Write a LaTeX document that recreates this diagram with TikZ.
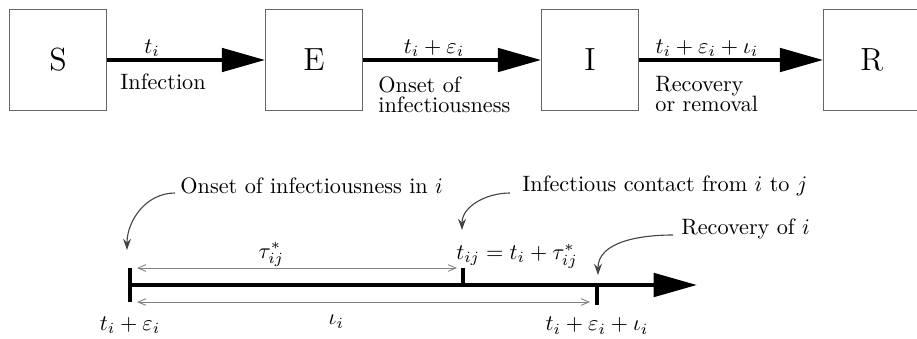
\documentclass[tikz,border=0pt]{standalone}
\usepackage{amsmath}
\usepackage{tikz}
\usetikzlibrary{positioning, calc, arrows.meta}
\definecolor{boxgray}{HTML}{666666}
\definecolor{pointergray}{HTML}{444444}
\tikzset{
	statenode/.style={
			rectangle,
			draw=boxgray,
			thin,
			fill=white,
			minimum width=43.6pt,
			minimum height=45.5pt,
			inner sep=0pt,
			font=\Large
		},
	bigarrow/.style={
			line width=1.8pt,
			-{Triangle[length=19.5pt, width=10.5pt]}
		},
	tickline/.style={
			line width=1.8pt
		},
	spanarrow/.style={
			draw=gray,
			line width=0.4pt,
			{Straight Barb[length=3.5pt, width=3pt]}-{Straight Barb[length=3.5pt, width=3pt]}
		},
	pointer/.style={
			draw=pointergray,
			line width=0.5pt,
			-{Stealth[length=5pt, width=3.5pt]}
		},
	plainlabel/.style={
			inner sep=0pt,
			align=left
		}
}

\begin{document}
\begin{tikzpicture}[x=0.45pt, y=-0.45pt]
				\useasboundingbox (0,0) rectangle (917,339);

				% compartments
				\node[statenode] at (58,60) (S) {S};
				\node[statenode] at (314,60) (E) {E};
				\node[statenode] at (590,60) (I) {I};
				\node[statenode] at (872,60) (R) {R};

				\draw[bigarrow] (S) -- (E);
				\draw[bigarrow] (E) -- (I);
				\draw[bigarrow] (I) -- (R);

				\node[plainlabel] at (152,48) (tS) {$t_i$};
				\node[plainlabel, anchor=west] at (120,82) (lS) {Infection};
				\node[plainlabel] at (434,48) (tE) {$t_i + \varepsilon_i$};
				\node[plainlabel, anchor=north west] at (378,76) (lE) {Onset of\\[-3pt]infectiousness};
				\node[plainlabel] at (707,48) (tI) {$t_i + \varepsilon_i + \iota_i$};
				\node[plainlabel, anchor=north west] at (655,76) (lI) {Recovery\\[-3pt]or removal};

				% time line
				\coordinate (a0) at (130,285);
				\coordinate (a1) at (697,285);
				\coordinate (c0) at (463,285);
				\coordinate (r0) at (597,285);

				\draw[bigarrow] (a0) -- (a1);
				\draw[tickline] ($(a0)+(0,-17)$) coordinate (a0top) -- ($(a0)+(0,17)$) coordinate (a0bot);
				\draw[tickline] (c0) -- ($(c0)+(0,-17)$) coordinate (c0top);
				\draw[tickline] (r0) -- ($(r0)+(0,20)$) coordinate (r0bot);

				\coordinate (tauL) at (137,268);
				\coordinate (tauR) at (457,268);
				\coordinate (iotaL) at (137,302);
				\coordinate (iotaR) at (590,302);
				\draw[spanarrow] (tauL) -- node[pos=0.42, above=-3pt] {$\tau^*_{ij}$} (tauR);
				\draw[spanarrow] (iotaL) -- node[pos=0.44, below=2.5pt] {$\iota_i$} (iotaR);

				\node[below=3pt of a0bot] (ta0) {$t_i + \varepsilon_i$};
				\node[below=2pt of r0bot] (tr0) {$t_i + \varepsilon_i + \iota_i$};
				\node at (517,256) (tc0) {$t_{ij} = t_i + \tau^*_{ij}$};

				% annotations
				\node[plainlabel, anchor=west] at (180,186) (onset) {Onset of infectiousness in $i$};
				\node[plainlabel, anchor=west] at (522,186) (contact) {Infectious contact from $i$ to $j$};
				\node[plainlabel, anchor=west] at (681,229) (recov) {Recovery of $i$};

				\coordinate (onsetP) at (127,250);
				\coordinate (contactP) at (462,230);
				\coordinate (recovP) at (598,275);
				\draw[pointer] ($(onset.west)+(-5,7)$) to[out=180, in=90] (onsetP);
				\draw[pointer] ($(contact.west)+(-12,7)$) to[out=180, in=90] (contactP);
				\draw[pointer] ($(recov.west)+(-8,6)$) to[out=180, in=90] (recovP);
			\end{tikzpicture}
\end{document}
